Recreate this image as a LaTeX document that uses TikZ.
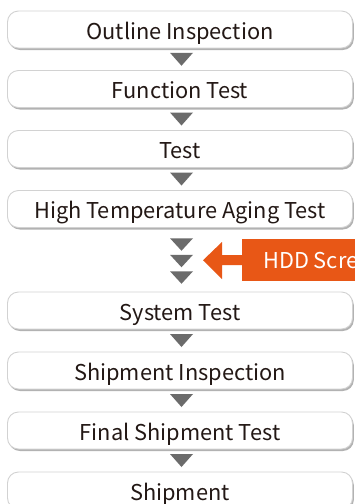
\documentclass[tikz,border=0pt]{standalone}
\usepackage{fontspec}
\setmainfont{Noto Sans CJK JP}
\usetikzlibrary{calc,shadows}
\definecolor{txtcol}{HTML}{231815}
\definecolor{tricol}{HTML}{6B6B6B}
\definecolor{orgcol}{HTML}{E85716}
\definecolor{bordcol}{HTML}{D2D2D2}
\begin{document}
\begin{tikzpicture}[x=1pt,y=-1pt,
  stepbox/.style={draw=bordcol, line width=0.9pt, fill=white, rounded corners=11pt,
    minimum width=345pt, minimum height=37pt, inner sep=0pt,
    font=\fontsize{21.8}{24}\selectfont, text=txtcol, text height=19pt, text depth=0pt,
    drop shadow={shadow xshift=1.3pt, shadow yshift=-2pt, fill=black, opacity=0.3}},
  hddbox/.style={fill=orgcol, draw=none, minimum height=42pt, inner xsep=21pt, inner ysep=0pt,
    font=\fontsize{21.8}{24}\selectfont, text=white, text height=16pt, text depth=0pt, anchor=west},
  tri/.style={fill=tricol}
]
\useasboundingbox (0,0) rectangle (355,504);
\clip (0,0) rectangle (355,504);
\fill[white] (0,0) rectangle (355,504);

\node[stepbox] (b1) at (180,29.5) {Outline Inspection};
\node[stepbox] (b2) at (180,89) {Function Test};
\node[stepbox] (b3) at (180,149) {Test};
\node[stepbox] (b4) at (180,209) {High Temperature Aging Test};
\node[stepbox] (b5) at (180,310.5) {System Test};
\node[stepbox] (b6) at (180,370.5) {Shipment Inspection};
\node[stepbox] (b7) at (180,430.5) {Final Shipment Test};
\node[stepbox] (b8) at (180,490.5) {Shipment};

\node[hddbox] (hdd) at (242,260) {HDD Screening};

% single triangles between boxes
\foreach \a/\b in {b1/b2,b2/b3,b3/b4,b5/b6,b6/b7,b7/b8}{
  \fill[tri] ($(\a.south)!0.5!(\b.north)$) ++(-10,-6.5) -- ++(23,0) -- ++(-11.5,13) -- cycle;
}
% triple triangles between b4 and b5
\coordinate (mid) at ($(b4.south)!0.5!(b5.north)$);
\foreach \dy in {-21.5,-5,11.5}{
  \fill[tri] (mid) ++(-10,\dy) -- ++(23,0) -- ++(-11.5,12.5) -- cycle;
}
% orange arrow from HDD box
\coordinate (tip) at ($(mid)+(23,0.5)$);
\fill[orgcol] ($(hdd.west)+(1,-5)$) -- ($(hdd.west)+(-20,-5)$) -- ($(hdd.west)+(-20,-18)$)
  -- (tip) -- ($(hdd.west)+(-20,19)$) -- ($(hdd.west)+(-20,5)$) -- ($(hdd.west)+(1,5)$) -- cycle;
\end{tikzpicture}
\end{document}
